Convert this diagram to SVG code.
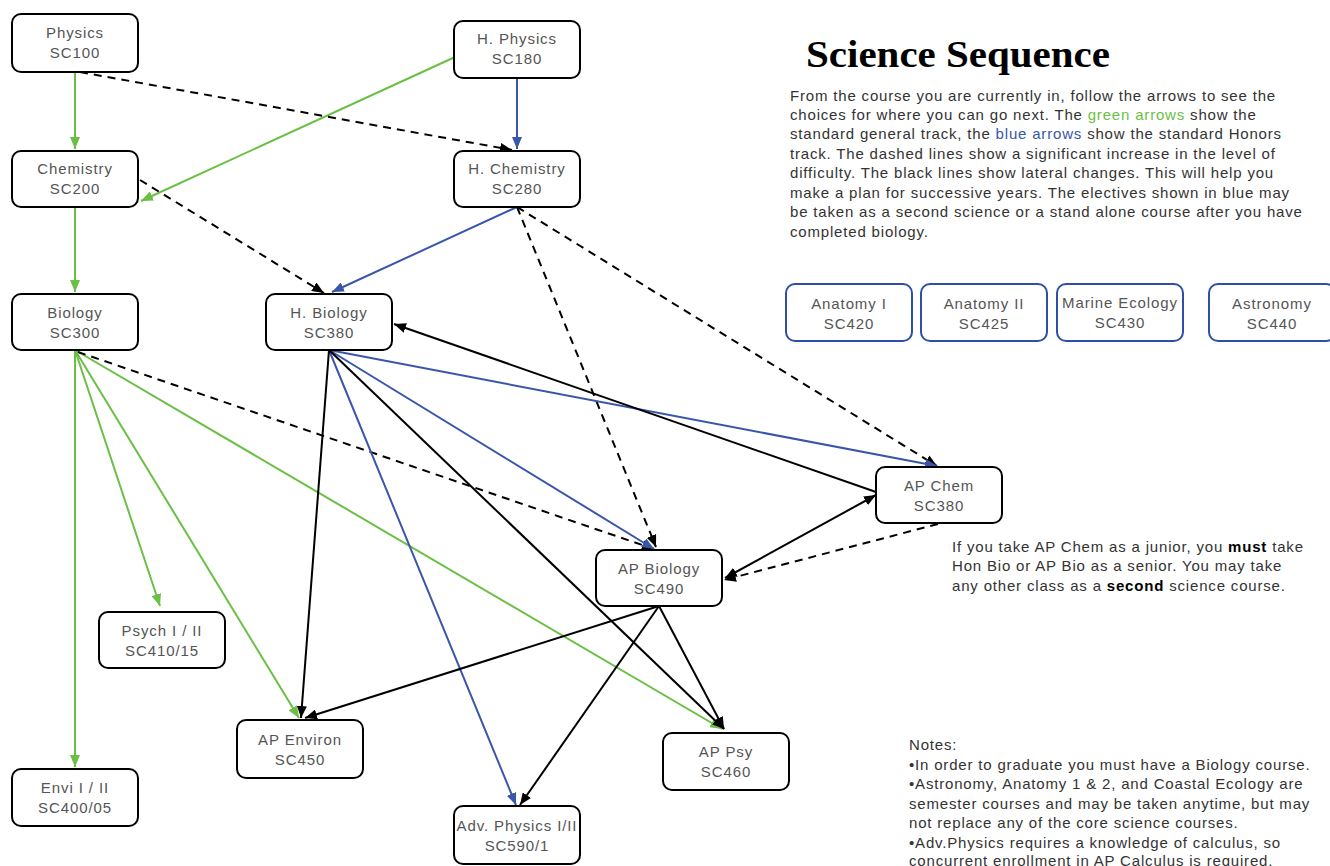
<svg xmlns="http://www.w3.org/2000/svg" width="1330" height="866" viewBox="0 0 1330 866">
<style>
.node rect{fill:#fff;stroke:#000;stroke-width:2}
.elec rect{fill:#fff;stroke:#2e4fa3;stroke-width:2}
.node text,.elec text{font-family:"Liberation Sans",Arial,sans-serif;font-size:15px;fill:#555;text-anchor:middle;letter-spacing:0.9px}
.g{stroke:#6abf45;stroke-width:2;fill:none;marker-end:url(#ag)}
.b{stroke:#3a56a8;stroke-width:2;fill:none;marker-end:url(#ab)}
.k{stroke:#000;stroke-width:2;fill:none;marker-end:url(#ak)}
.d{stroke:#000;stroke-width:2;fill:none;stroke-dasharray:8,6;marker-end:url(#ak)}
.txt{font-family:"Liberation Sans",Arial,sans-serif;font-size:15px;fill:#333;letter-spacing:0.82px}
</style>
<defs>
<marker id="ag" markerUnits="userSpaceOnUse" markerWidth="12" markerHeight="10" refX="12" refY="5" orient="auto"><path d="M0,0 L12,5 L0,10 z" fill="#6abf45"/></marker>
<marker id="ab" markerUnits="userSpaceOnUse" markerWidth="12" markerHeight="10" refX="12" refY="5" orient="auto"><path d="M0,0 L12,5 L0,10 z" fill="#3a56a8"/></marker>
<marker id="ak" markerUnits="userSpaceOnUse" markerWidth="12" markerHeight="10" refX="12" refY="5" orient="auto-start-reverse"><path d="M0,0 L12,5 L0,10 z" fill="#000"/></marker>
</defs>
<rect width="1330" height="866" fill="#fff"/>
<g id="connectors">
<line class="g" x1="75" y1="72" x2="75" y2="149"/>
<line class="g" x1="455" y1="57" x2="141" y2="201"/>
<line class="g" x1="75" y1="207" x2="75" y2="292"/>
<line class="g" x1="75" y1="350" x2="75" y2="767"/>
<line class="g" x1="75" y1="350" x2="160" y2="606"/>
<line class="g" x1="75" y1="350" x2="299" y2="718"/>
<line class="g" x1="75" y1="350" x2="722" y2="729"/>
<line class="d" x1="80" y1="72" x2="512" y2="150"/>
<line class="d" x1="140" y1="180" x2="324" y2="293"/>
<line class="d" x1="78" y1="352" x2="654" y2="549"/>
<line class="d" x1="517" y1="207" x2="656" y2="547"/>
<line class="d" x1="517" y1="207" x2="937" y2="466"/>
<line class="d" x1="938" y1="524" x2="724" y2="580"/>
<line class="b" x1="517" y1="78" x2="517" y2="149"/>
<line class="b" x1="517" y1="207" x2="332" y2="292"/>
<line class="b" x1="329" y1="350" x2="937" y2="466"/>
<line class="b" x1="329" y1="350" x2="654" y2="549"/>
<line class="b" x1="329" y1="350" x2="516" y2="805"/>
<line class="k" x1="329" y1="350" x2="301" y2="718"/>
<line class="k" x1="329" y1="350" x2="724" y2="729"/>
<line class="k" x1="876" y1="492" x2="394" y2="324"/>
<line class="k" x1="725" y1="578" x2="876" y2="495" marker-start="url(#ak)"/>
<line class="k" x1="659" y1="606" x2="305" y2="718"/>
<line class="k" x1="659" y1="606" x2="520" y2="805"/>
<line class="k" x1="659" y1="606" x2="724" y2="729"/>
</g>
<g id="n-physics" class="node"><rect x="12" y="14" width="126" height="58" rx="9"/><text x="75" y="38">Physics</text><text x="75" y="58">SC100</text></g>
<g id="n-hphysics" class="node"><rect x="454" y="21" width="126" height="57" rx="9"/><text x="517" y="44">H. Physics</text><text x="517" y="64">SC180</text></g>
<g id="n-chemistry" class="node"><rect x="12" y="151" width="126" height="56" rx="9"/><text x="75" y="174">Chemistry</text><text x="75" y="194">SC200</text></g>
<g id="n-hchemistry" class="node"><rect x="454" y="151" width="126" height="56" rx="9"/><text x="517" y="174">H. Chemistry</text><text x="517" y="194">SC280</text></g>
<g id="n-biology" class="node"><rect x="12" y="294" width="126" height="56" rx="9"/><text x="75" y="318">Biology</text><text x="75" y="338">SC300</text></g>
<g id="n-hbiology" class="node"><rect x="266" y="294" width="126" height="56" rx="9"/><text x="329" y="318">H. Biology</text><text x="329" y="338">SC380</text></g>
<g id="n-apchem" class="node"><rect x="876" y="467" width="126" height="56" rx="9"/><text x="939" y="491">AP Chem</text><text x="939" y="511">SC380</text></g>
<g id="n-apbio" class="node"><rect x="596" y="550" width="126" height="56" rx="9"/><text x="659" y="574">AP Biology</text><text x="659" y="594">SC490</text></g>
<g id="n-psych" class="node"><rect x="99" y="612" width="126" height="56" rx="9"/><text x="162" y="636">Psych I / II</text><text x="162" y="656">SC410/15</text></g>
<g id="n-apenviron" class="node"><rect x="237" y="720" width="126" height="58" rx="9"/><text x="300" y="745">AP Environ</text><text x="300" y="765">SC450</text></g>
<g id="n-appsy" class="node"><rect x="663" y="733" width="126" height="57" rx="9"/><text x="726" y="757">AP Psy</text><text x="726" y="777">SC460</text></g>
<g id="n-envi" class="node"><rect x="12" y="769" width="126" height="57" rx="9"/><text x="75" y="793">Envi I / II</text><text x="75" y="813">SC400/05</text></g>
<g id="n-advphys" class="node"><rect x="454" y="806" width="126" height="58" rx="9"/><text x="517" y="831" letter-spacing="0.3">Adv. Physics I/II</text><text x="517" y="851">SC590/1</text></g>
<g id="n-anat1" class="elec"><rect x="786" y="284" width="126" height="57" rx="9"/><text x="849" y="309">Anatomy I</text><text x="849" y="329">SC420</text></g>
<g id="n-anat2" class="elec"><rect x="921" y="284" width="126" height="57" rx="9"/><text x="984" y="309">Anatomy II</text><text x="984" y="329">SC425</text></g>
<g id="n-marine" class="elec"><rect x="1057" y="284" width="126" height="57" rx="9"/><text x="1120" y="308" letter-spacing="0.6">Marine Ecology</text><text x="1120" y="328">SC430</text></g>
<g id="n-astro" class="elec"><rect x="1209" y="284" width="126" height="57" rx="9"/><text x="1272" y="309">Astronomy</text><text x="1272" y="329">SC440</text></g>
<g id="title"><text x="806" y="67" font-family="'Liberation Serif','Times New Roman',serif" font-weight="bold" font-size="37" fill="#000" textLength="304" lengthAdjust="spacingAndGlyphs">Science Sequence</text></g>
<g id="intro" class="txt">
<text x="790" y="101">From the course you are currently in, follow the arrows to see the</text>
<text x="790" y="120">choices for where you can go next.  The <tspan fill="#6abf45">green arrows</tspan> show the</text>
<text x="790" y="139">standard general track, the <tspan fill="#3a56a8">blue arrows</tspan> show the standard Honors</text>
<text x="790" y="159">track. The dashed lines show a significant increase in the level of</text>
<text x="790" y="178">difficulty. The black lines show lateral changes.  This will help you</text>
<text x="790" y="198">make a plan for successive years. The electives shown in blue may</text>
<text x="790" y="217">be taken as a second science or a stand alone course after you have</text>
<text x="790" y="237">completed biology.</text>
</g>
<g id="apchem-note" class="txt">
<text x="952" y="552">If you take AP Chem as a junior, you <tspan font-weight="bold" fill="#000">must</tspan> take</text>
<text x="952" y="571">Hon Bio or AP Bio as a senior.  You may take</text>
<text x="952" y="591">any other class as a <tspan font-weight="bold" fill="#000">second</tspan> science course.</text>
</g>
<g id="notes" class="txt">
<text x="909" y="750">Notes:</text>
<text x="909" y="770">•In order to graduate you must have a Biology course.</text>
<text x="909" y="789">•Astronomy, Anatomy 1 &amp; 2, and Coastal Ecology are</text>
<text x="909" y="809">semester courses and may be taken anytime, but may</text>
<text x="909" y="828">not replace any of the core science courses.</text>
<text x="909" y="848">•Adv.Physics requires a knowledge of calculus, so</text>
<text x="909" y="866">concurrent enrollment in AP Calculus is required.</text>
</g>
</svg>
